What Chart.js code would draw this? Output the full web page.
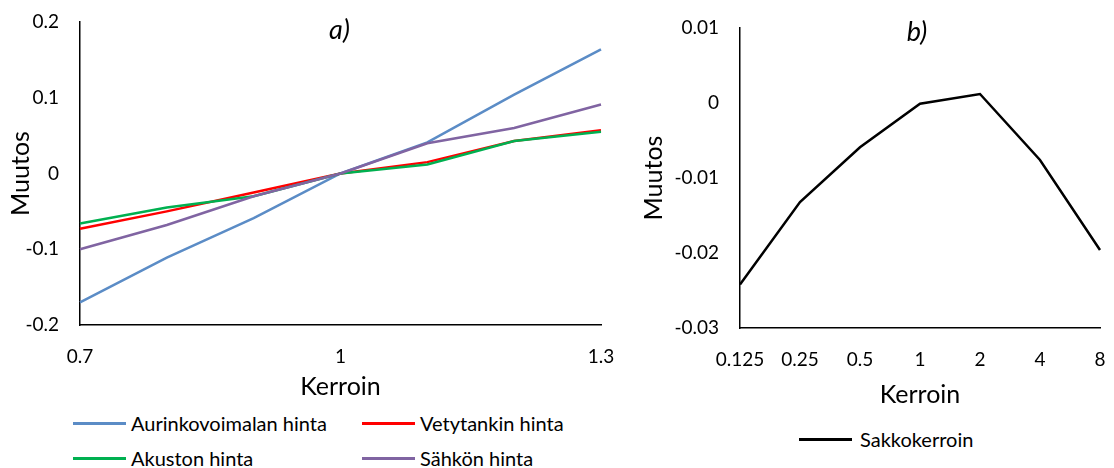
<!DOCTYPE html>
<html><head><meta charset="utf-8">
<script src="https://cdn.jsdelivr.net/npm/chart.js@4.4.1/dist/chart.umd.min.js"></script>
<style>
html,body{margin:0;padding:0;background:#fff;}
body{width:1114px;height:468px;position:relative;overflow:hidden;font-family:Lato,sans-serif;}
.box{position:absolute;}
.item{position:absolute;height:24px;display:flex;align-items:center;white-space:nowrap;font-family:Lato,sans-serif;font-size:20px;color:#000;}
.sw{display:inline-block;width:53px;height:3px;}
</style></head><body>
<div class="box" style="left:0;top:0;width:620px;height:410px;"><canvas id="cA"></canvas></div>
<div class="box" style="left:630px;top:0;width:484px;height:410px;"><canvas id="cB"></canvas></div>
<div id="legA"></div>
<div id="legB"></div>
<script>
// ---- data ----
const kerroinA = ['0.7','0.8','0.9','1','1.1','1.2','1.3'];
const kerroinATicks = ['0.7','1','1.3'];
const aurinko = [-0.170,-0.111,-0.059,0,0.041,0.104,0.164];
const vety    = [-0.073,-0.050,-0.025,0,0.015,0.043,0.057];
const akusto  = [-0.066,-0.045,-0.030,0,0.012,0.043,0.055];
const sahko   = [-0.100,-0.068,-0.030,0,0.040,0.060,0.091];
const namesA  = ['Aurinkovoimalan hinta','Vetytankin hinta','Akuston hinta','Sähkön hinta'];
const yTicksA = [-0.2,-0.1,0,0.1,0.2];

const kerroinB = ['0.125','0.25','0.5','1','2','4','8'];
const sakko    = [-0.0242,-0.0132,-0.0059,-0.0001,0.0012,-0.0076,-0.0196];
const nameB    = 'Sakkokerroin';
const yTicksB  = [-0.03,-0.02,-0.01,0,0.01];

const titleA = 'a)', titleB = 'b)';
const xTitle = 'Kerroin', yTitle = 'Muutos';

// ---- helpers ----
const FONT = 'Lato';
const panelTitle = {
  id:'panelTitle',
  afterDraw(chart, args, opts){
    const {ctx, chartArea} = chart;
    ctx.save();
    ctx.font = 'italic 27px ' + FONT;
    ctx.fillStyle = '#000';
    ctx.textAlign = 'center';
    ctx.textBaseline = 'middle';
    ctx.fillText(opts.text, (chartArea.left + chartArea.right)/2 + (opts.dx||0), opts.y);
    ctx.restore();
  }
};

function fmt(v){ return String(Number(Number(v).toFixed(4))); }

function makeOptions(cfg){
  const hidden = 'rgba(0,0,0,0)';
  return {
    responsive:true, maintainAspectRatio:false, animation:false,
    layout:{padding:{left:0, top:cfg.top, right:cfg.right, bottom:0}},
    plugins:{legend:{display:false}, tooltip:{enabled:false}, panelTitle:{text:cfg.title, y:cfg.titleY, dx:cfg.titleDx}},
    elements:{point:{radius:0}, line:{tension:0}},
    scales:{
      x:{
        type:'category', offset:false,
        grid:{display:true, color:hidden, tickColor:hidden, drawTicks:true, tickLength:cfg.xTickLen},
        border:{display:true, color:'#000', width:1.5},
        ticks:{color:'#000', font:{family:FONT, size:19}, padding:0, autoSkip:false, maxRotation:0},
        afterBuildTicks: cfg.xFilter,
        afterFit(s){ s.height = cfg.xHeight; },
        title:{display:true, text:xTitle, color:'#000', font:{family:FONT, size:25, lineHeight:1.2}, padding:{top:0, bottom:cfg.xTitlePad}}
      },
      y:{
        min:cfg.yTicks[0], max:cfg.yTicks[cfg.yTicks.length-1],
        grid:{display:true, color:hidden, tickColor:hidden, drawTicks:true, tickLength:21},
        border:{display:true, color:'#000', width:1.5},
        ticks:{color:'#000', font:{family:FONT, size:19}, padding:0, callback:(v)=>fmt(v)},
        afterBuildTicks(s){ s.ticks = cfg.yTicks.map(v=>({value:v})); },
        afterFit(s){ s.width = cfg.yWidth; },
        title:{display:true, text:yTitle, color:'#000', font:{family:FONT, size:25, lineHeight:1.2}, padding:{top:cfg.yTitlePad, bottom:0}}
      }
    }
  };
}

const colorsA = ['#5b8cc6','#ff0000','#00b050','#8064a2'];
const valuesA = [aurinko, vety, akusto, sahko];

const chartA = new Chart(document.getElementById('cA'), {
  type:'line',
  data:{
    labels:kerroinA,
    datasets: valuesA.map((vals,i)=>({
      label:namesA[i], data:vals, borderColor:colorsA[i], backgroundColor:colorsA[i],
      borderWidth:2.5, fill:false, order:valuesA.length - i
    }))
  },
  options: makeOptions({
    top:22, right:19, title:titleA, titleY:30, titleDx:-1,
    xTickLen:20, xHeight:85, xTitlePad:8,
    xFilter(s){ s.ticks = s.ticks.filter(t => kerroinATicks.includes(kerroinA[t.value])); },
    yTicks:yTicksA, yWidth:80, yTitlePad:6
  }),
  plugins:[panelTitle]
});

const chartB = new Chart(document.getElementById('cB'), {
  type:'line',
  data:{
    labels:kerroinB,
    datasets:[{label:nameB, data:sakko, borderColor:'#000', backgroundColor:'#000', borderWidth:2.5, fill:false}]
  },
  options: makeOptions({
    top:28, right:14, title:titleB, titleY:32, titleDx:-3,
    xTickLen:20, xHeight:82, xTitlePad:0,
    xFilter:null,
    yTicks:yTicksB, yWidth:110, yTitlePad:9
  }),
  plugins:[panelTitle]
});

// ---- HTML legends built from the charts' datasets ----
function buildLegend(chart, el, slots){
  chart.data.datasets.forEach((ds, i)=>{
    const s = slots[i];
    const d = document.createElement('div');
    d.className = 'item';
    d.style.left = s[0] + 'px';
    d.style.top = (s[1] - 12) + 'px';
    const sw = document.createElement('span');
    sw.className = 'sw';
    sw.style.background = ds.borderColor;
    sw.style.marginRight = s[2] + 'px';
    const t = document.createElement('span');
    t.textContent = ds.label;
    d.appendChild(sw); d.appendChild(t);
    el.appendChild(d);
  });
}
buildLegend(chartA, document.getElementById('legA'), [[73,423,5],[362,423,5],[73,458,5],[362,458,5]]);
buildLegend(chartB, document.getElementById('legB'), [[799,439,8]]);
</script>
</body></html>
